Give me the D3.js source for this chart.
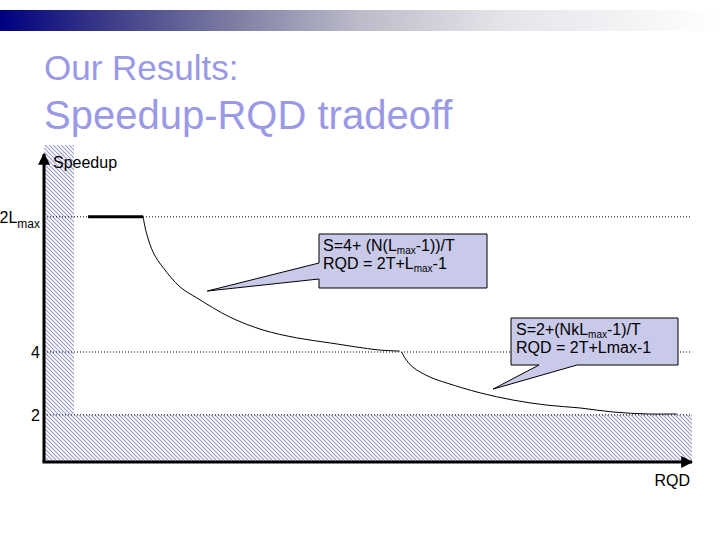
<!DOCTYPE html>
<html lang="en">
<head>
  <meta charset="UTF-8">
  <title>Our Results: Speedup-RQD tradeoff</title>
  <script src="https://d3js.org/d3.v7.min.js"></script>
  <style>
    body { margin: 0; background: #fff; }
    svg { display: block; font-family: "Liberation Sans", Arial, sans-serif; }
  </style>
</head>
<body>
  <svg width="720" height="540"></svg>

  <script>
    // Chart values (RQD in arbitrary units 0-100, speedup in slide units)
    const titleLines = ["Our Results:", "Speedup-RQD tradeoff"];
    const yTickValues = [2, 4, 8.3];
    const yTickLabels = ["2", "4", "2L_{max}"];
    const axisLabels = { x: "RQD", y: "Speedup" };

    // flat part at 2Lmax
    const flatRQD = [6.8, 15.3];
    const flatSpeedup = [8.3, 8.3];

    // first curve: S = 4 + (N(Lmax-1))/T
    const curve1RQD = [15.3, 15.8, 16.9, 18.4, 21.0, 23.6, 28.7, 33.8, 39.0, 44.1, 49.2, 51.9, 54.9];
    const curve1Speedup = [8.3, 7.79, 7.15, 6.68, 6.07, 5.72, 5.11, 4.70, 4.45, 4.29, 4.13, 4.06, 4.03];

    // second curve: S = 2 + (NkLmax-1)/T
    const curve2RQD = [55.2, 55.7, 56.9, 59.6, 62.2, 67.3, 72.4, 77.6, 82.7, 87.8, 93.1, 97.7];
    const curve2Speedup = [4.0, 3.81, 3.52, 3.20, 3.01, 2.70, 2.47, 2.31, 2.22, 2.09, 2.03, 2.03];

    // callouts: text lines and the point each one points to
    const callout1Lines = ["S=4+ (N(L_{max}-1))/T", "RQD = 2T+L_{max}-1"];
    const callout1Tip = [25.2, 5.94];
    const callout2Lines = ["S=2+(NkL_{max}-1)/T", "RQD = 2T+Lmax-1"];
    const callout2Tip = [69.3, 2.82];

    const svg = d3.select("svg");
    const defs = svg.append("defs");

    // top gradient bar
    const grad = defs.append("linearGradient").attr("id", "topbar");
    [[0, "#000080"], [0.15, "#3c3c88"], [0.32, "#7c7ca2"], [0.5, "#bcbcca"], [0.7, "#e4e4ea"], [1, "#ffffff"]]
      .forEach(s => grad.append("stop").attr("offset", s[0]).attr("stop-color", s[1]));
    svg.append("rect")
      .attr("x", 0).attr("y", 10).attr("width", 720).attr("height", 21)
      .attr("fill", "url(#topbar)");

    // hatch pattern
    const pat = defs.append("pattern")
      .attr("id", "hatch")
      .attr("patternUnits", "userSpaceOnUse")
      .attr("width", 4).attr("height", 4);
    pat.append("rect").attr("width", 4).attr("height", 4).attr("fill", "#fff");
    pat.append("path")
      .attr("d", "M-1,-1 L5,5 M-1,3 L1,5 M3,-1 L5,1")
      .attr("stroke", "#9a9ad0")
      .attr("stroke-width", 1.1);

    // arrow marker
    defs.append("marker")
      .attr("id", "arrow")
      .attr("viewBox", "0 0 10 10")
      .attr("refX", 9).attr("refY", 5)
      .attr("markerWidth", 4).attr("markerHeight", 4)
      .attr("orient", "auto")
      .append("path")
      .attr("d", "M0,0 L10,5 L0,10 Z")
      .attr("fill", "#000");

    // title
    svg.append("text")
      .attr("x", 44).attr("y", 80)
      .attr("fill", "#9999e6")
      .style("font-size", "35px")
      .text(titleLines[0]);
    svg.append("text")
      .attr("x", 44).attr("y", 129)
      .attr("fill", "#9999e6")
      .style("font-size", "40px")
      .text(titleLines[1]);

    // scales
    const x = d3.scaleLinear().domain([0, 100]).range([44, 692]);
    const y = d3.scaleLinear().domain([0.5, 10.3]).range([462, 154]);

    // hatched forbidden regions
    svg.append("rect")
      .attr("x", x(0)).attr("y", 145)
      .attr("width", 30).attr("height", y(2) - 145)
      .attr("fill", "url(#hatch)");
    svg.append("rect")
      .attr("x", x(0)).attr("y", y(2))
      .attr("width", x(100) - x(0)).attr("height", y(0.5) - y(2))
      .attr("fill", "url(#hatch)");

    // dotted reference lines
    svg.selectAll(".ref")
      .data(yTickValues)
      .join("line")
      .attr("class", "ref")
      .attr("x1", x(0)).attr("x2", x(100))
      .attr("y1", d => y(d)).attr("y2", d => y(d))
      .attr("stroke", "#000")
      .attr("stroke-width", 1)
      .attr("stroke-dasharray", "1,2");

    // text with _{sub} subscripts
    function richText(sel, str, shift, subSize) {
      let back = 0;
      str.split(/(_\{[^}]*\})/).filter(s => s.length).forEach(part => {
        if (part.startsWith("_{")) {
          sel.append("tspan")
            .attr("dy", shift)
            .style("font-size", subSize + "px")
            .text(part.slice(2, -1));
          back = -shift;
        } else {
          sel.append("tspan").attr("dy", back).text(part);
          back = 0;
        }
      });
    }

    // y tick labels
    yTickValues.forEach((v, i) => {
      const t = svg.append("text")
        .attr("x", 40)
        .attr("y", y(v) + 6)
        .attr("text-anchor", "end")
        .style("font-size", "16px");
      richText(t, yTickLabels[i], 5, 12);
    });

    // curves
    const line = d3.line()
      .x(d => x(d[0]))
      .y(d => y(d[1]))
      .curve(d3.curveCatmullRom.alpha(0.5));

    svg.append("path")
      .datum(flatRQD.map((r, i) => [r, flatSpeedup[i]]))
      .attr("d", d3.line().x(d => x(d[0])).y(d => y(d[1])))
      .attr("fill", "none")
      .attr("stroke", "#000")
      .attr("stroke-width", 3);

    svg.append("path")
      .datum(curve1RQD.map((r, i) => [r, curve1Speedup[i]]))
      .attr("d", line)
      .attr("fill", "none")
      .attr("stroke", "#000")
      .attr("stroke-width", 1);

    svg.append("path")
      .datum(curve2RQD.map((r, i) => [r, curve2Speedup[i]]))
      .attr("d", line)
      .attr("fill", "none")
      .attr("stroke", "#000")
      .attr("stroke-width", 1);

    // axes
    svg.append("line")
      .attr("x1", x(0)).attr("y1", y(0.5))
      .attr("x2", x(0)).attr("y2", y(10.3))
      .attr("stroke", "#000").attr("stroke-width", 3)
      .attr("marker-end", "url(#arrow)");
    svg.append("line")
      .attr("x1", x(0) - 1.5).attr("y1", y(0.5))
      .attr("x2", x(100)).attr("y2", y(0.5))
      .attr("stroke", "#000").attr("stroke-width", 3)
      .attr("marker-end", "url(#arrow)");

    svg.append("text")
      .attr("x", 53).attr("y", 168)
      .style("font-size", "16px")
      .text(axisLabels.y);
    svg.append("text")
      .attr("x", 690).attr("y", 486)
      .attr("text-anchor", "end")
      .style("font-size", "16px")
      .text(axisLabels.x);

    // callouts
    const c1 = svg.append("g");
    c1.append("path")
      .attr("d", `M319,234 H487 V288 H319 V279 L${x(callout1Tip[0])},${y(callout1Tip[1])} L319,263 Z`)
      .attr("fill", "#c9c9e9")
      .attr("stroke", "#000")
      .attr("stroke-width", 1);
    callout1Lines.forEach((l, i) => {
      const t = c1.append("text")
        .attr("x", 323).attr("y", 251 + i * 18)
        .style("font-size", "16px");
      richText(t, l, 3, 10);
    });

    const c2 = svg.append("g");
    c2.append("path")
      .attr("d", `M511,318 H678 V365 H577 L${x(callout2Tip[0])},${y(callout2Tip[1])} L539,365 H511 Z`)
      .attr("fill", "#c9c9e9")
      .attr("stroke", "#000")
      .attr("stroke-width", 1);
    callout2Lines.forEach((l, i) => {
      const t = c2.append("text")
        .attr("x", 516).attr("y", 335 + i * 18)
        .style("font-size", "16px");
      richText(t, l, 3, 10);
    });
  </script>
</body>
</html>
